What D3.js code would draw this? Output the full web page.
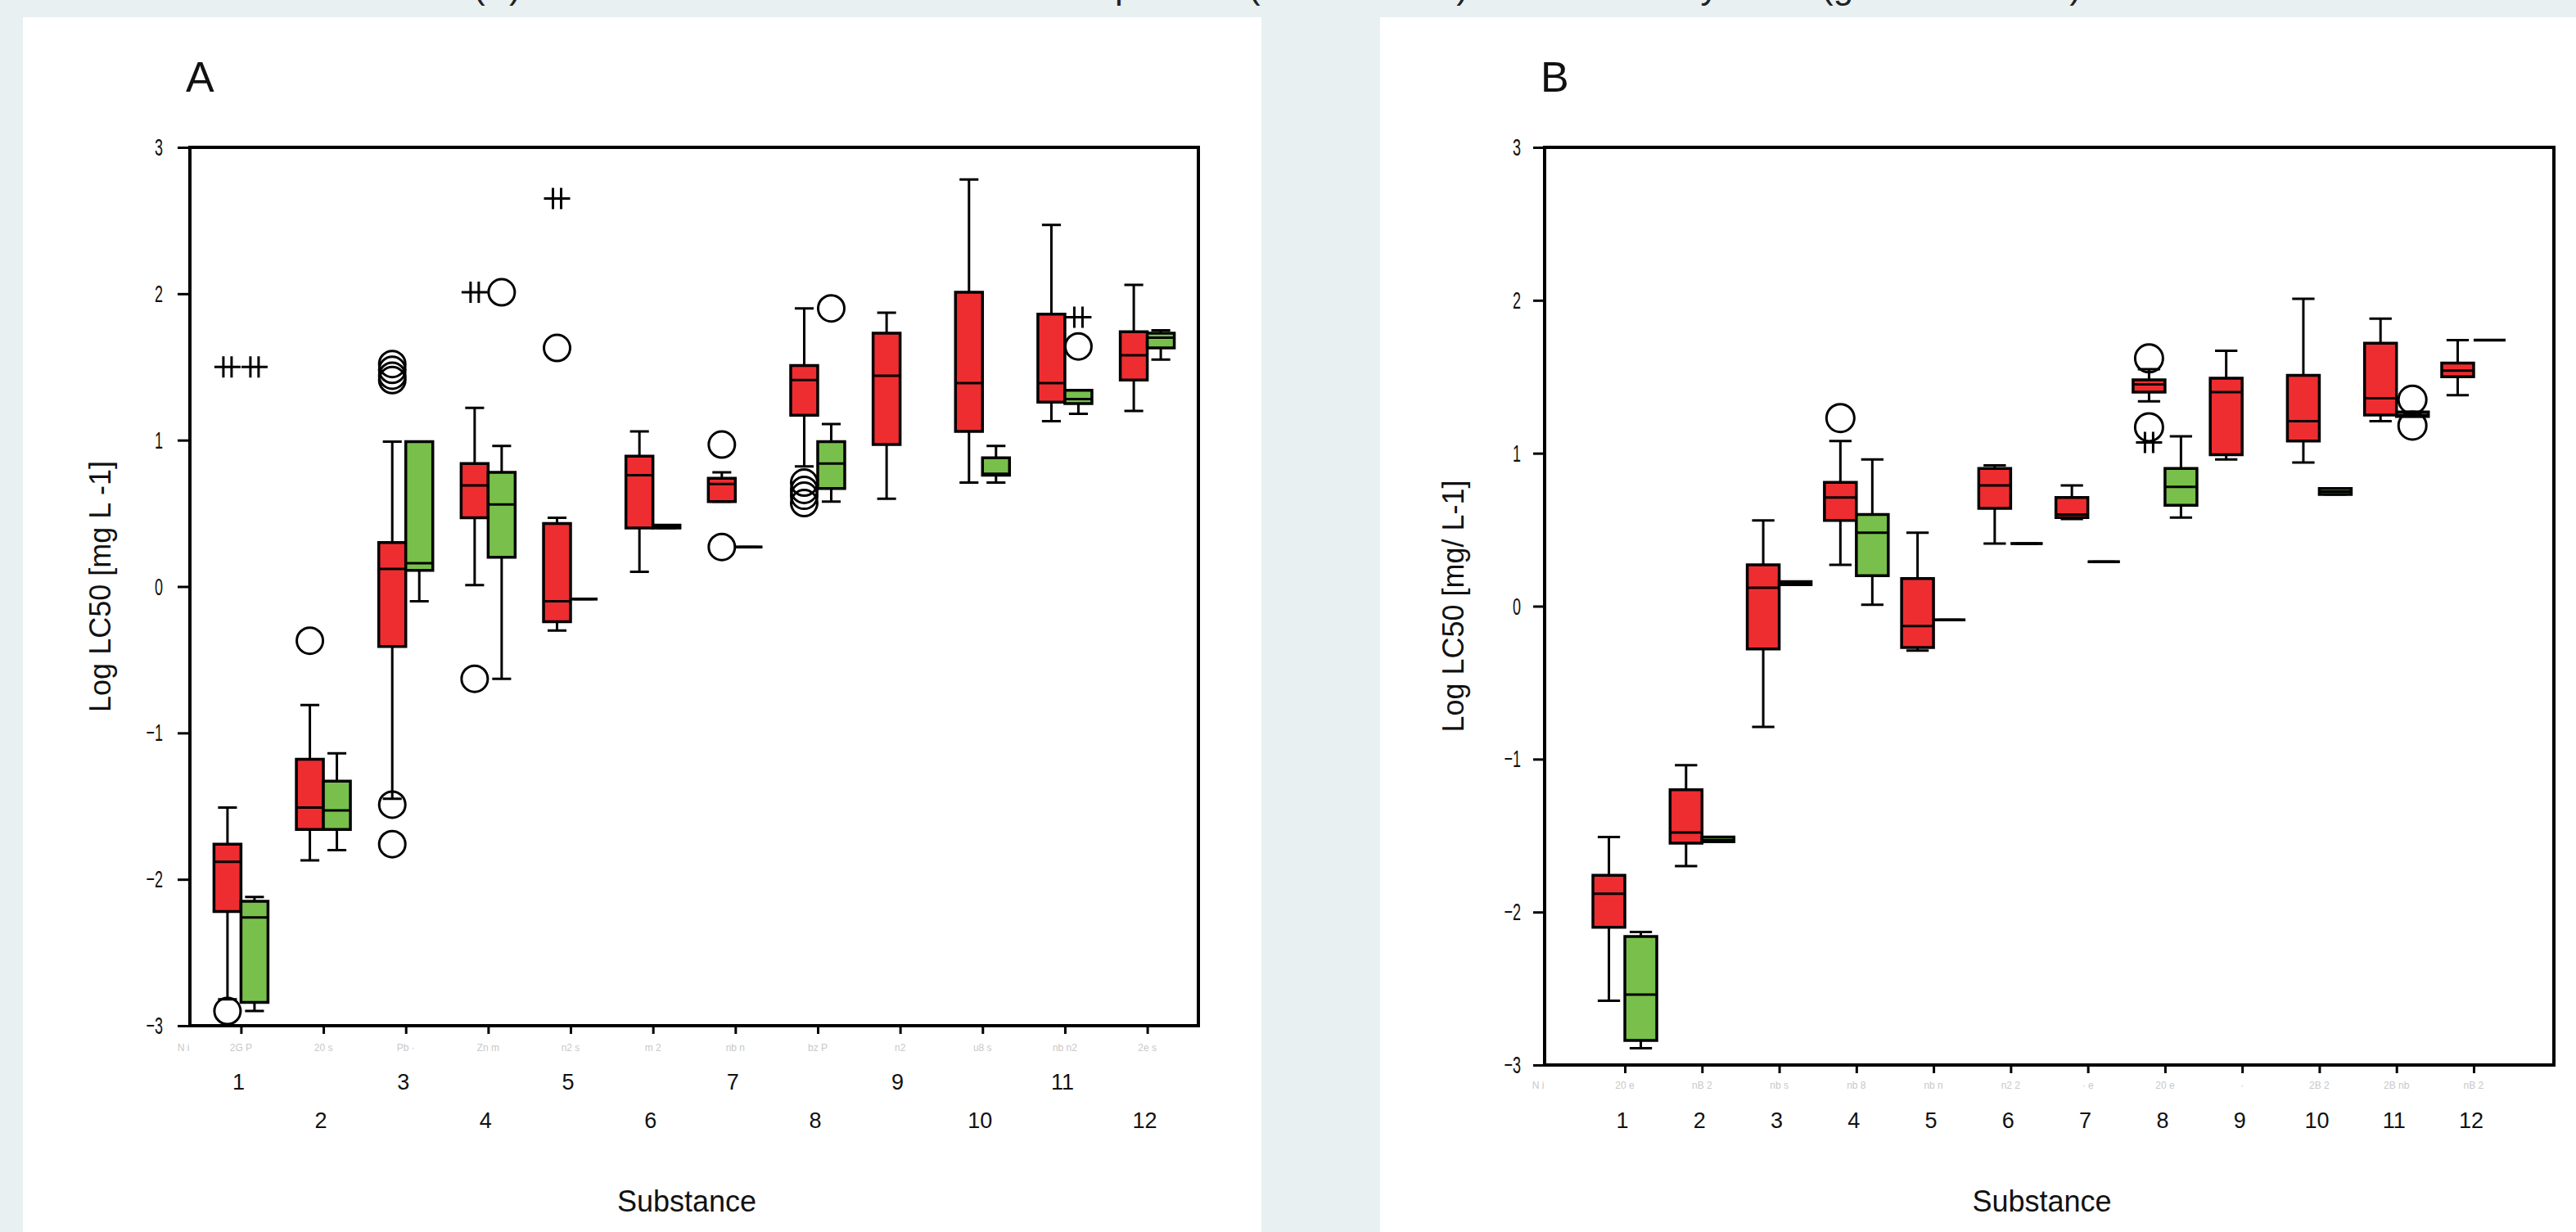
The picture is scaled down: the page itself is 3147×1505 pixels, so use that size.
<!DOCTYPE html>
<html>
<head>
<meta charset="utf-8">
<script src="https://cdn.jsdelivr.net/npm/d3@7"></script>
<style>
  html, body { margin: 0; padding: 0; background: #e8f0f2; }
  svg { display: block; font-family: "Liberation Sans", Arial, sans-serif; }
</style>
</head>
<body>
<svg id="chart" width="3147" height="1505"></svg>
<script>
const substances = ["1", "2", "3", "4", "5", "6", "7", "8", "9", "10", "11", "12"];
const groups = ["red", "green"];
const yTicks = [-3, -2, -1, 0, 1, 2, 3];

// box stats per substance: [lower whisker, Q1, median, Q3, upper whisker]
const redA = [
  [-2.82, -2.22, -1.88, -1.76, -1.51],
  [-1.87, -1.66, -1.51, -1.18, -0.81],
  [-1.45, -0.41, 0.12, 0.30, 0.99],
  [0.01, 0.47, 0.69, 0.84, 1.22],
  [-0.30, -0.24, -0.10, 0.43, 0.47],
  [0.10, 0.40, 0.76, 0.89, 1.06],
  [0.58, 0.58, 0.70, 0.74, 0.78],
  [0.82, 1.17, 1.41, 1.51, 1.90],
  [0.60, 0.97, 1.44, 1.73, 1.87],
  [0.71, 1.06, 1.39, 2.01, 2.78],
  [1.13, 1.26, 1.39, 1.86, 2.47],
  [1.20, 1.41, 1.58, 1.74, 2.06]
];
const greenA = [
  [-2.90, -2.84, -2.26, -2.15, -2.12],
  [-1.80, -1.66, -1.53, -1.33, -1.14],
  [-0.10, 0.11, 0.16, 0.99, 0.99],
  [-0.63, 0.20, 0.56, 0.78, 0.96],
  [-0.085, -0.085, -0.085, -0.085, -0.085],
  [0.40, 0.40, 0.41, 0.42, 0.42],
  [0.27, 0.27, 0.27, 0.27, 0.27],
  [0.58, 0.67, 0.84, 0.99, 1.11],
  null,
  [0.71, 0.76, 0.77, 0.88, 0.96],
  [1.18, 1.25, 1.28, 1.34, 1.34],
  [1.55, 1.63, 1.70, 1.73, 1.75]
];
// [substance, group, value, marker]
const outliersA = [
  ["1", "red", 1.50, "star"], ["1", "green", 1.50, "star"], ["1", "red", -2.90, "circle"],
  ["2", "red", -0.37, "circle"],
  ["3", "red", 1.52, "circle"], ["3", "red", 1.48, "circle"], ["3", "red", 1.44, "circle"], ["3", "red", 1.41, "circle"],
  ["3", "red", -1.49, "circle"], ["3", "red", -1.76, "circle"],
  ["4", "red", 2.01, "star"], ["4", "green", 2.01, "circle"], ["4", "red", -0.63, "circle"],
  ["5", "red", 2.65, "star"], ["5", "red", 1.63, "circle"],
  ["7", "red", 0.97, "circle"], ["7", "red", 0.27, "circle"],
  ["8", "red", 0.71, "circle"], ["8", "red", 0.66, "circle"], ["8", "red", 0.62, "circle"], ["8", "red", 0.57, "circle"],
  ["8", "green", 1.90, "circle"],
  ["11", "green", 1.84, "star"], ["11", "green", 1.64, "circle"]
];

const redB = [
  [-2.58, -2.10, -1.88, -1.76, -1.51],
  [-1.70, -1.55, -1.48, -1.20, -1.04],
  [-0.79, -0.28, 0.12, 0.27, 0.56],
  [0.27, 0.56, 0.71, 0.81, 1.08],
  [-0.29, -0.27, -0.13, 0.18, 0.48],
  [0.41, 0.64, 0.79, 0.90, 0.92],
  [0.57, 0.58, 0.60, 0.71, 0.79],
  [1.34, 1.40, 1.45, 1.48, 1.55],
  [0.96, 0.99, 1.40, 1.49, 1.67],
  [0.94, 1.08, 1.21, 1.51, 2.01],
  [1.21, 1.25, 1.36, 1.72, 1.88],
  [1.38, 1.50, 1.54, 1.59, 1.74]
];
const greenB = [
  [-2.89, -2.84, -2.54, -2.16, -2.13],
  [-1.54, -1.54, -1.53, -1.51, -1.51],
  [0.14, 0.14, 0.15, 0.16, 0.16],
  [0.01, 0.20, 0.48, 0.60, 0.96],
  [-0.09, -0.09, -0.09, -0.09, -0.09],
  [0.41, 0.41, 0.41, 0.41, 0.41],
  [0.29, 0.29, 0.29, 0.29, 0.29],
  [0.58, 0.66, 0.78, 0.90, 1.11],
  null,
  [0.73, 0.73, 0.75, 0.77, 0.77],
  [1.24, 1.24, 1.25, 1.27, 1.27],
  [1.74, 1.74, 1.74, 1.74, 1.74]
];
const outliersB = [
  ["4", "red", 1.23, "circle"],
  ["8", "red", 1.62, "circle"], ["8", "red", 1.17, "circle"], ["8", "red", 1.07, "star"],
  ["11", "green", 1.35, "circle"], ["11", "green", 1.18, "circle"]
];

// faint labels printed under the ticks (origin first)
const ghostA = ["N i", "2G P", "20 s", "Pb ·", "Zn m", "n2 s", "m 2", "nb n", "bz P", "n2", "u8 s", "nb n2", "2e s"];
const ghostB = ["N i", "20 e", "nB 2", "nb s", "nb 8", "nb n", "n2 2", "· e", "20 e", "·", "2B 2", "2B nb", "nB 2"];

const colors = { red: "#ee2d31", green: "#78c04b" };

const svg = d3.select("#chart");

// cut-off caption above the panels
svg.append("text")
    .attr("y", -2)
    .attr("font-size", 44)
    .attr("fill", "#222")
    .selectAll("tspan")
    .data([["(A)", 578], ["species", 1340], ["(red columns)", 1525], ["toxicity", 1965], ["(green columns)", 2225]])
    .join("tspan")
    .attr("x", (d) => d[1])
    .text((d) => d[0]);

const panels = [
    { letter: "A", bg: [28, 1541], left: 232, right: 1464, top: 180, bottom: 1253, pad: 0.62, half: 33, r: 16,
      red: redA, green: greenA, outliers: outliersA, ghost: ghostA, ghostY: 1284, stagger: true,
      yTitle: "Log LC50 [mg L -1]", yTitleX: 135, yLabelX: 33, yTick: 15 },
    { letter: "B", bg: [1686, 3147], left: 1887, right: 3120, top: 180, bottom: 1301, pad: 1.04, half: 39, r: 17,
      red: redB, green: greenB, outliers: outliersB, ghost: ghostB, ghostY: 1330, stagger: false,
      yTitle: "Log LC50 [mg/ L-1]", yTitleX: 1788, yLabelX: 29, yTick: 14 }
];

panels.forEach(drawPanel);

function drawPanel(p) {
    const g = svg.append("g");

    g.append("rect")
        .attr("x", p.bg[0]).attr("y", 21)
        .attr("width", p.bg[1] - p.bg[0]).attr("height", 1505 - 21)
        .attr("fill", "#fff");

    const x = d3.scalePoint().domain(substances).range([p.left, p.right]).padding(p.pad);
    const y = d3.scaleLinear().domain([-3, 3]).range([p.bottom, p.top]);
    const off = d3.scaleBand().domain(groups).range([-p.half, p.half]);
    const bw = off.bandwidth();
    const capW = bw * 0.7;

    // y axis
    const yAxis = g.append("g")
        .attr("transform", `translate(${p.left},0)`)
        .call(d3.axisLeft(y).tickValues(yTicks).tickSize(p.yTick).tickPadding(p.yLabelX - p.yTick).tickFormat(d3.format("d")));
    yAxis.select(".domain").remove();
    yAxis.selectAll(".tick line").attr("stroke", "#000").attr("stroke-width", 3);
    yAxis.selectAll(".tick text")
        .attr("font-size", 30)
        .attr("font-family", "Liberation Sans, Arial, sans-serif")
        .attr("fill", "#111")
        .attr("x", -p.yLabelX / 0.6)
        .attr("transform", "scale(0.6,1)");

    // x axis ticks
    const xAxis = g.append("g")
        .attr("transform", `translate(0,${p.bottom})`)
        .call(d3.axisBottom(x).tickSize(10).tickFormat(""));
    xAxis.select(".domain").remove();
    xAxis.selectAll(".tick line").attr("stroke", "#000").attr("stroke-width", 3);

    g.selectAll("text.xlab")
        .data(substances)
        .join("text")
        .attr("class", "xlab")
        .attr("x", (d) => x(d) - 3)
        .attr("y", (d, i) => (p.stagger && i % 2 === 1) ? p.bottom + 125 : (p.stagger ? p.bottom + 78 : p.bottom + 77))
        .attr("text-anchor", "middle")
        .attr("font-size", 27)
        .attr("fill", "#111")
        .text((d) => d);

    const ghostPos = [p.left - 8].concat(substances.map((s) => x(s)));
    g.selectAll("text.ghost")
        .data(p.ghost)
        .join("text")
        .attr("class", "ghost")
        .attr("x", (d, i) => ghostPos[i])
        .attr("y", p.ghostY)
        .attr("text-anchor", "middle")
        .attr("font-size", 12)
        .attr("fill", "#c8c8c8")
        .text((d) => d);

    // frame
    g.append("rect")
        .attr("x", p.left).attr("y", p.top)
        .attr("width", p.right - p.left).attr("height", p.bottom - p.top)
        .attr("fill", "none").attr("stroke", "#000").attr("stroke-width", 4);

    // boxes
    const rows = substances.flatMap((s, i) => groups.map((grp) => ({ s, grp, st: (grp === "red" ? p.red : p.green)[i] })))
        .filter((d) => d.st);

    const box = g.selectAll("g.box")
        .data(rows)
        .join("g")
        .attr("class", "box")
        .attr("transform", (d) => `translate(${x(d.s) + off(d.grp) + bw / 2},0)`);

    box.append("path")
        .attr("d", (d) => `M0,${y(d.st[4])}V${y(d.st[3])}M0,${y(d.st[1])}V${y(d.st[0])}` +
            `M${-capW / 2},${y(d.st[4])}H${capW / 2}M${-capW / 2},${y(d.st[0])}H${capW / 2}`)
        .attr("fill", "none").attr("stroke", "#000").attr("stroke-width", 3);

    box.append("path")
        .attr("d", (d) => `M${-bw / 2},${y(d.st[3])}H${bw / 2}V${y(d.st[1])}H${-bw / 2}Z`)
        .attr("fill", (d) => colors[d.grp])
        .attr("stroke", "#000").attr("stroke-width", 3.5);

    box.append("line")
        .attr("x1", -bw / 2).attr("x2", bw / 2)
        .attr("y1", (d) => y(d.st[2])).attr("y2", (d) => y(d.st[2]))
        .attr("stroke", "#000").attr("stroke-width", 3);

    // outliers and extremes
    const ox = (d) => x(d[0]) + off(d[1]) + bw / 2;
    g.selectAll("circle.out")
        .data(p.outliers.filter((d) => d[3] === "circle"))
        .join("circle")
        .attr("class", "out")
        .attr("cx", ox).attr("cy", (d) => y(d[2]))
        .attr("r", p.r)
        .attr("fill", "none").attr("stroke", "#000").attr("stroke-width", 3);

    g.selectAll("path.star")
        .data(p.outliers.filter((d) => d[3] === "star"))
        .join("path")
        .attr("class", "star")
        .attr("transform", (d) => `translate(${ox(d)},${y(d[2])})`)
        .attr("d", "M-16,0H16M-5,-13V13M5,-13V13")
        .attr("fill", "none").attr("stroke", "#000").attr("stroke-width", 3);

    // titles
    g.append("text")
        .attr("x", p.left - 5).attr("y", 112)
        .attr("font-size", 52)
        .attr("fill", "#111")
        .text(p.letter);

    g.append("text")
        .attr("transform", `translate(${p.yTitleX},${(p.top + p.bottom) / 2}) rotate(-90)`)
        .attr("text-anchor", "middle")
        .attr("font-size", 36)
        .attr("fill", "#111")
        .text(p.yTitle);

    g.append("text")
        .attr("x", (p.left + p.right) / 2 - 9).attr("y", 1480)
        .attr("text-anchor", "middle")
        .attr("font-size", 36)
        .attr("fill", "#111")
        .text("Substance");
}
</script>
</body>
</html>
